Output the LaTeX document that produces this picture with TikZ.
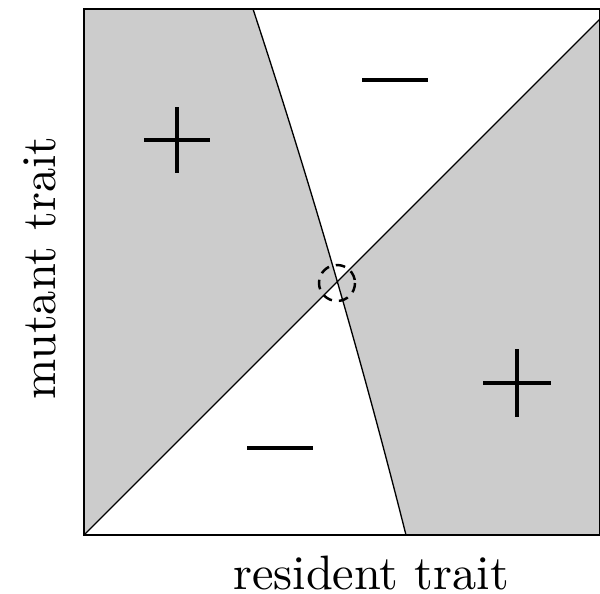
\documentclass[tikz,border=0pt]{standalone}
\usepackage{fontspec}
\newfontfamily\labelfont{lmroman10-regular}[Extension=.otf]
\usetikzlibrary{positioning}
\begin{document}
\begin{tikzpicture}[
    x=0.02cm, y=-0.02cm,
    thinline/.style={line width=0.75pt, color=black},
    region/.style={fill=black!20},
    sign/.style={line width=2.2pt, color=black},
    singular/.style={line width=1.4pt, dash pattern=on 5.5pt off 4pt},
    axislabel/.style={font=\labelfont\fontsize{27.5}{33}\selectfont, inner sep=0pt}
]
    \useasboundingbox (0,0) rectangle (600,594);
    % corners and the singular point
    \coordinate (bl) at (84,535);
    \coordinate (tl) at (84,9);
    \coordinate (tr) at (600,9);
    \coordinate (br) at (600,535);
    \coordinate (diagend) at (600,19);
    \coordinate (isotop) at (253,9);
    \coordinate (isobot) at (406,535);
    \coordinate (ess) at (337,283);

    % shaded regions
    \begin{scope}
        \clip (bl) -- (diagend) -- (tr) -- (tl) -- cycle;
        \fill[region] (tl) -- (isotop) .. controls (310.7,184.3) and (361.7,359.7) .. (isobot) -- (bl) -- cycle;
    \end{scope}
    \begin{scope}
        \clip (bl) -- (diagend) -- (br) -- cycle;
        \fill[region] (isotop) .. controls (310.7,184.3) and (361.7,359.7) .. (isobot) -- (br) -- (tr) -- cycle;
    \end{scope}

    \draw[thinline] (bl) -- (diagend);
    \draw[thinline] (isotop) .. controls (310.7,184.3) and (361.7,359.7) .. (isobot);
    \draw[thinline] (tl) rectangle (br);
    \draw[singular] (ess) circle[radius=18];

    % signs
    \coordinate (plusA) at (177,140);
    \coordinate (plusB) at (517,383);
    \coordinate (minusA) at (395,80);
    \coordinate (minusB) at (280,448);
    \draw[sign] ([xshift=-0.66cm]plusA) -- ([xshift=0.66cm]plusA)
                ([yshift=-0.66cm]plusA) -- ([yshift=0.66cm]plusA);
    \draw[sign] ([xshift=-0.68cm]plusB) -- ([xshift=0.68cm]plusB)
                ([yshift=-0.68cm]plusB) -- ([yshift=0.68cm]plusB);
    \draw[sign] ([xshift=-0.66cm]minusA) -- ([xshift=0.66cm]minusA);
    \draw[sign] ([xshift=-0.66cm]minusB) -- ([xshift=0.66cm]minusB);

    \node[axislabel, anchor=base] (xlabel) at (371,590) {resident trait};
    \node[axislabel, anchor=base, rotate=90] (ylabel) at (55,268) {mutant trait};
\end{tikzpicture}
\end{document}
